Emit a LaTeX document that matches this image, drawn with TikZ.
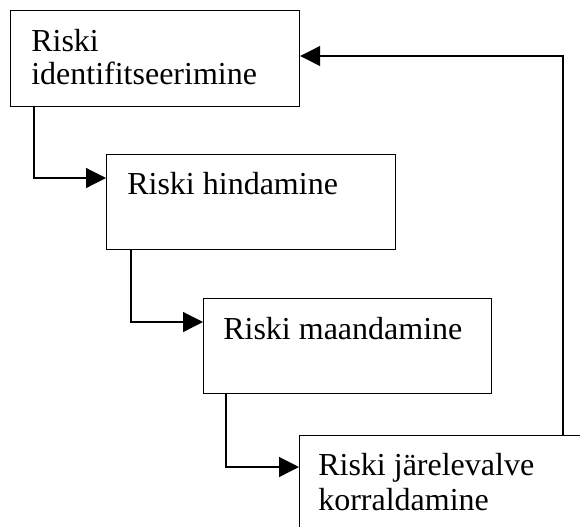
\documentclass[tikz,border=0pt]{standalone}
\usepackage{fontspec}
\setmainfont{Liberation Serif}
\usetikzlibrary{arrows.meta,calc}
\begin{document}
\begin{tikzpicture}[x=0.75pt,y=-0.75pt,
  box/.style={draw, line width=0.9pt, rectangle, inner sep=0pt, anchor=north west},
  lbl/.style={inner sep=0pt, anchor=north west, align=left, font=\fontsize{24}{24.75}\selectfont},
  arr/.style={line width=0.9pt, -{Triangle[length=15pt,width=15pt]}}]
\useasboundingbox (0,0) rectangle (580,526);
\clip (0,0) rectangle (580,526);
\node[box, minimum width={289*0.75pt}, minimum height={96*0.75pt}] (b1) at (10,10) {};
\node[box, minimum width={289*0.75pt}, minimum height={95*0.75pt}] (b2) at (106,154) {};
\node[box, minimum width={288*0.75pt}, minimum height={95*0.75pt}] (b3) at (203,298) {};
\node[box, minimum width={320*0.75pt}, minimum height={120*0.75pt}] (b4) at (299,435) {};
\node[lbl] (t1) at (31,29) {Riski\\identifitseerimine};
\node[lbl] (t2) at (127,172) {Riski hindamine};
\node[lbl] (t3) at (223,317) {Riski maandamine};
\node[lbl, font=\fontsize{24}{26.25}\selectfont] (t4) at (318,453) {Riski järelevalve\\korraldamine};
\draw[arr] ($(b1.south west)+(24,0)$) |- ($(b2.north west)+(0,24)$);
\draw[arr] ($(b2.south west)+(25,0)$) |- ($(b3.north west)+(0,24)$);
\draw[arr] ($(b3.south west)+(23,0)$) |- ($(b4.north west)+(0,32)$);
\draw[arr] ($(b4.north west)+(264,0)$) |- ($(b1.north east)+(0,46)$);
\end{tikzpicture}
\end{document}
